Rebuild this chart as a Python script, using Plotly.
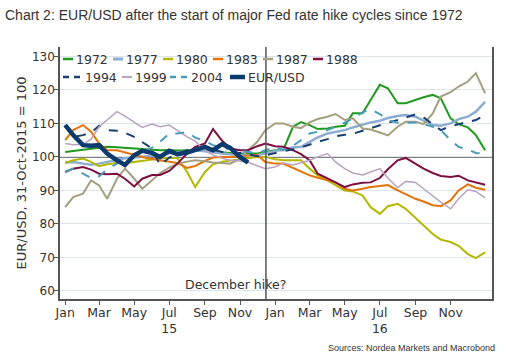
import plotly.graph_objects as go

# ---------------- data ----------------
dates = [f"{y}-{m:02d}-{d:02d}" for y in (2015, 2016) for m in range(1, 13) for d in (1, 15)] + ["2016-12-31"]

s1972 = [101.5, 101.8, 102.2, 102.6, 102.8, 103.0, 102.9, 102.7, 102.6, 102.4, 102.2, 102.0,
         102.1, 101.9, 102.0, 102.0, 101.8, 101.6, 101.3, 101.2, 101.0, 101.0, 101.0, 101.5,
         102.0, 102.0, 109.0, 110.4, 109.5, 108.3, 108.5, 109.0, 109.3, 113.0, 113.0, 117.0,
         121.5, 120.5, 116.0, 116.0, 117.0, 117.8, 118.5, 117.5, 111.5, 109.8, 108.8, 106.5, 102.0]
s1977 = [98.3, 98.5, 98.0, 97.7, 98.0, 98.5, 99.0, 99.6, 99.8, 100.0, 100.3, 100.6,
         101.0, 101.3, 101.7, 102.0, 101.7, 101.3, 101.0, 100.8, 100.6, 100.5, 100.6, 101.0,
         101.8, 102.3, 102.8, 103.0, 104.5, 105.8, 107.0, 107.5, 108.0, 108.8, 109.6, 110.3,
         110.8, 111.6, 112.2, 112.5, 112.0, 110.8, 109.5, 109.3, 110.0, 111.3, 112.0, 113.5, 116.4]
s1980 = [98.2, 99.0, 99.5, 98.5, 97.2, 97.8, 98.2, 98.2, 98.5, 98.8, 99.2, 99.7,
         99.8, 99.7, 95.5, 91.0, 95.5, 97.8, 98.6, 98.9, 99.3, 99.6, 100.0, 100.0,
         99.3, 99.0, 99.0, 99.0, 96.5, 94.5, 93.0, 91.5, 90.0, 89.7, 88.5, 85.0,
         83.0, 85.3, 86.0, 84.5, 81.8, 79.5, 77.0, 75.3, 74.6, 73.5, 71.0, 69.8, 71.5]
s1983 = [105.0, 108.0, 109.5, 107.5, 104.0, 102.0, 102.0, 101.3, 100.6, 100.0, 99.4, 99.0,
         98.4, 98.2, 96.7, 97.3, 98.8, 99.8, 100.0, 100.0, 100.3, 100.5, 100.6, 98.5,
         98.0, 98.0, 96.7, 95.6, 94.5, 93.8, 93.2, 92.5, 90.5, 90.0, 90.5, 91.0,
         91.3, 91.6, 90.0, 88.8, 87.5, 86.7, 85.6, 85.3, 87.0, 90.0, 91.8, 90.8, 90.2]
s1987 = [85.0, 88.0, 89.0, 93.0, 91.5, 87.5, 93.5, 96.5, 93.5, 90.5, 93.0, 95.2,
         96.8, 98.0, 98.6, 99.0, 98.7, 98.3, 98.2, 98.0, 99.5, 102.0, 104.5, 108.0,
         110.0, 110.0, 109.0, 108.6, 110.3, 111.3, 112.0, 112.8, 111.0, 111.5, 108.5, 108.2,
         107.3, 106.4, 109.0, 110.5, 110.5, 109.8, 113.0, 118.0, 119.3, 121.0, 122.5, 125.0, 119.0]
s1988 = [95.5, 96.5, 97.0, 96.2, 95.0, 94.8, 95.0, 93.5, 91.2, 93.5, 94.6, 94.6,
         95.8, 98.0, 101.0, 103.0, 104.0, 108.3, 104.8, 102.5, 102.0, 102.0, 103.2, 104.0,
         103.2, 103.0, 102.0, 100.8, 99.0, 95.0, 93.6, 92.3, 91.0, 91.8, 92.3, 92.4,
         93.7, 96.3, 99.0, 99.7, 98.0, 96.5, 95.2, 94.3, 94.0, 94.4, 93.0, 92.4, 91.7]
s1994 = [109.5, 106.0, 106.5, 107.2, 109.3, 108.0, 107.8, 107.2, 106.0, 104.5, 102.5, 97.5,
         99.8, 100.8, 102.0, 102.5, 103.0, 102.2, 101.5, 101.3, 101.2, 100.8, 100.2, 100.5,
         101.2, 101.8, 102.3, 102.8, 103.7, 104.5, 105.3, 106.2, 106.6, 106.9, 107.8, 108.6,
         109.4, 110.2, 111.0, 111.8, 112.7, 111.8, 109.8, 108.0, 109.2, 109.8, 110.4, 111.0, 112.5]
s1999 = [104.0, 103.6, 103.8, 105.3, 109.0, 111.0, 113.5, 112.2, 110.5, 108.8, 109.8, 109.0,
         109.5, 107.8, 106.0, 104.7, 101.8, 100.6, 99.6, 99.0, 98.8, 98.4, 97.3, 96.5,
         97.0, 98.2, 97.6, 98.2, 99.0, 100.0, 101.0, 98.5, 96.5, 95.2, 94.6, 95.5,
         96.5, 93.7, 90.8, 92.7, 92.4, 90.5, 88.3, 86.5, 84.5, 87.5, 90.2, 89.7, 87.8]
s2004 = [95.5, 96.5, 95.0, 93.7, 94.2, 96.3, 98.0, 99.0, 100.3, 101.3, 102.8, 104.5,
         107.0, 107.0, 107.4, 105.8, 104.7, 103.5, 102.7, 102.2, 101.8, 101.5, 101.1, 102.0,
         103.0, 102.0, 103.3, 105.0, 107.0, 107.5, 108.0, 109.0, 110.2, 111.5, 113.3, 114.2,
         112.8, 111.0, 110.2, 110.2, 110.3, 109.8, 109.0, 108.0, 105.0, 103.0, 102.2, 101.2, 101.0]
eurusd = [109.5, 106.5, 103.5, 103.3, 103.5, 101.0, 99.0, 97.6, 100.5, 101.8, 101.2, 100.0,
          101.8, 100.8, 101.3, 102.0, 103.0, 102.0, 103.8, 102.7, 100.0, 98.3]

series = [
    ("1972", s1972, "#1f9a1f", 2.0, "solid"),
    ("1977", s1977, "#8cacd2", 2.5, "solid"),
    ("1980", s1980, "#b5b800", 2.0, "solid"),
    ("1983", s1983, "#e5730a", 2.0, "solid"),
    ("1987", s1987, "#a59f80", 2.0, "solid"),
    ("1988", s1988, "#7d0f42", 2.0, "solid"),
    ("1994", s1994, "#1b3f70", 2.0, "dash"),
    ("1999", s1999, "#b9a3c0", 1.5, "solid"),
    ("2004", s2004, "#4a9cb8", 2.0, "dash"),
]
eur_color = "#0b3a6e"

tick_dates = ["2015-01-01", "2015-03-01", "2015-05-01", "2015-07-01", "2015-09-01", "2015-11-01",
              "2016-01-01", "2016-03-01", "2016-05-01", "2016-07-01", "2016-09-01", "2016-11-01"]
tick_labels = ["Jan", "Mar", "May", "Jul<br>15", "Sep", "Nov",
               "Jan", "Mar", "May", "Jul<br>16", "Sep", "Nov"]
hike_date = "2015-12-16"

# ---------------- figure ----------------
W, H = 506, 358
L, R, T, B = 60, 492, 47, 299


def px(x):
    return (x - L) / (R - L)


def py(y):
    return (B - y) / (B - T)


fig = go.Figure()
for name, vals, col, w, dash in series:
    fig.add_trace(go.Scatter(x=dates, y=vals, mode="lines", name=name,
                             line=dict(color=col, width=w, dash=dash), showlegend=False))
fig.add_trace(go.Scatter(x=dates[:len(eurusd)], y=eurusd, mode="lines", name="EUR/USD",
                         line=dict(color=eur_color, width=4.5), showlegend=False))

shapes = [
    dict(type="line", xref="paper", yref="y", x0=0, x1=1, y0=100, y1=100,
         line=dict(color="#555555", width=1.5), layer="below"),
    dict(type="line", xref="x", yref="paper", x0=hike_date, x1=hike_date, y0=0, y1=1,
         line=dict(color="#555555", width=1.5), layer="above"),
]
annotations = []

font_main = "DejaVu Sans, Verdana, sans-serif"

# legend drawn by hand
row1 = [("1972", "#1f9a1f", "solid", 2.5), ("1977", "#8cacd2", "solid", 3),
        ("1980", "#b5b800", "solid", 2.5), ("1983", "#e5730a", "solid", 2.5),
        ("1987", "#a59f80", "solid", 2.5), ("1988", "#7d0f42", "solid", 2.5)]
for i, (nm, col, dash, w) in enumerate(row1):
    x0 = 63 + 50 * i
    shapes.append(dict(type="line", xref="paper", yref="paper", x0=px(x0), x1=px(x0 + 10),
                       y0=py(59), y1=py(59), line=dict(color=col, width=w, dash=dash)))
    annotations.append(dict(x=px(x0 + 11), y=py(59), xref="paper", yref="paper", text=nm,
                            showarrow=False, xanchor="left", yanchor="middle",
                            font=dict(family=font_main, size=12.5, color="#333333")))
row2 = [("1994", "#1b3f70", "dash", 2.5, 63, 82), ("1999", "#b9a3c0", "solid", 2, 122, 132),
        ("2004", "#4a9cb8", "dash", 2.5, 170, 188), ("EUR/USD", eur_color, "solid", 4.5, 230, 245)]
for nm, col, dash, w, a, b in row2:
    if dash == "dash":
        for k in range(2):
            shapes.append(dict(type="line", xref="paper", yref="paper",
                               x0=px(a + k * 11), x1=px(a + k * 11 + 6),
                               y0=py(77), y1=py(77), line=dict(color=col, width=w)))
    else:
        shapes.append(dict(type="line", xref="paper", yref="paper", x0=px(a), x1=px(b),
                           y0=py(77), y1=py(77), line=dict(color=col, width=w)))
    annotations.append(dict(x=px(b + 1), y=py(77), xref="paper", yref="paper", text=nm,
                            showarrow=False, xanchor="left", yanchor="middle",
                            font=dict(family=font_main, size=12.5, color="#333333")))

annotations += [
    dict(x=px(3), y=py(15), xref="paper", yref="paper", xanchor="left", yanchor="middle",
         text="Chart 2: EUR/USD after the start of major Fed rate hike cycles since 1972",
         showarrow=False, font=dict(family="Liberation Sans, Arial, sans-serif", size=14,
                                    color="#333333")),
    dict(x=px(235), y=py(284), xref="paper", yref="paper", xanchor="center", yanchor="middle",
         text="December hike?", showarrow=False,
         font=dict(family=font_main, size=12.5, color="#333333")),
    dict(x=px(497), y=py(348), xref="paper", yref="paper", xanchor="right", yanchor="middle",
         text="Sources: Nordea Markets and Macrobond", showarrow=False,
         font=dict(family="Liberation Sans, Arial, sans-serif", size=9, color="#333333")),
]

fig.update_layout(
    width=W, height=H,
    margin=dict(l=L, r=W - R, t=T, b=H - B, pad=0),
    paper_bgcolor="white", plot_bgcolor="white",
    shapes=shapes, annotations=annotations,
    xaxis=dict(type="date", range=["2014-12-23", "2017-01-12"],
               tickmode="array", tickvals=tick_dates, ticktext=tick_labels,
               ticks="outside", ticklen=4, tickcolor="#555555", tickwidth=1,
               ticklabelstandoff=-3,
               showline=True, linecolor="#555555", linewidth=1.5, showgrid=False,
               zeroline=False,
               tickfont=dict(family=font_main, size=12.5, color="#333333")),
    yaxis=dict(range=[57.6, 132.8], tick0=60, dtick=10,
               ticks="outside", ticklen=4, tickcolor="#555555", tickwidth=1,
               ticklabelstandoff=-3,
               showline=True, mirror=True, linecolor="#555555", linewidth=1.5,
               showgrid=True, gridcolor="#dde4ec", gridwidth=1, zeroline=False,
               tickfont=dict(family=font_main, size=12, color="#333333"),
               title=dict(text="EUR/USD, 31-Oct-2015 = 100", standoff=2,
                          font=dict(family=font_main, size=13, color="#333333"))),
)

fig.write_html("out.html", config={"displayModeBar": False},
               post_script="document.body.style.margin='0';")
